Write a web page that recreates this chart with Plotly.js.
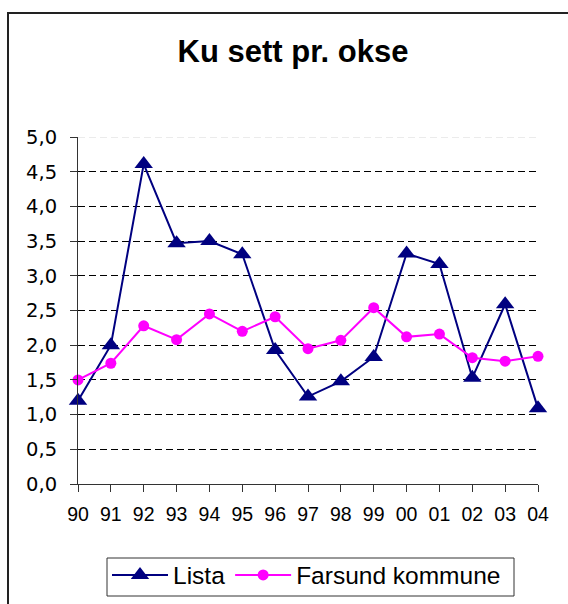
<!DOCTYPE html>
<html>
<head>
<meta charset="utf-8">
<script src="https://cdn.plot.ly/plotly-3.0.1.min.js"></script>
<style>
html,body{margin:0;padding:0;background:#fff;}
#chart{width:568px;height:604px;}
</style>
</head>
<body>
<div id="chart"></div>
<script>
var years = ['90','91','92','93','94','95','96','97','98','99','00','01','02','03','04'];
var lista = [1.20, 2.00, 4.61, 3.47, 3.50, 3.31, 1.93, 1.26, 1.48, 1.83, 3.32, 3.17, 1.53, 2.59, 1.09];
var farsund = [1.50, 1.74, 2.28, 2.08, 2.45, 2.20, 2.41, 1.95, 2.07, 2.54, 2.12, 2.16, 1.82, 1.77, 1.84];
var seriesNames = ['Lista', 'Farsund kommune'];
var chartTitle = 'Ku sett pr. okse';

var traces = [
  {
    x: years, y: lista, name: seriesNames[0], type: 'scatter', mode: 'lines+markers',
    line: {color: '#000080', width: 2},
    marker: {symbol: 'triangle-up', size: 16, color: '#000080'},
    cliponaxis: false
  },
  {
    x: years, y: farsund, name: seriesNames[1], type: 'scatter', mode: 'lines+markers',
    line: {color: '#FF00FF', width: 2},
    marker: {symbol: 'circle', size: 11, color: '#FF00FF'},
    cliponaxis: false
  }
];

var L = 78, T = 137, PW = 460, PH = 347;
function px2x(p) { return (p - L) / PW; }
function px2y(p) { return (T + PH - p) / PH; }

var layout = {
  width: 568, height: 604,
  margin: {l: L, r: 568 - L - PW, t: T, b: 604 - T - PH},
  paper_bgcolor: '#fff', plot_bgcolor: '#fff',
  separators: ', ',
  showlegend: true,
  title: {
    text: chartTitle,
    font: {family: 'Liberation Sans, Arial, sans-serif', size: 31, color: '#000', weight: 'bold'},
    x: 293/568, xref: 'container', xanchor: 'center',
    y: 1 - 51/604, yref: 'container', yanchor: 'middle'
  },
  xaxis: {
    type: 'category', range: [0, 14],
    showline: true, linecolor: '#333', linewidth: 1,
    ticks: 'outside', ticklen: 7, tickcolor: '#333', tickwidth: 1,
    showgrid: false, zeroline: false,
    tickfont: {family: 'Liberation Sans, Arial, sans-serif', size: 19.5, color: '#000'},
    ticklabelstandoff: 6
  },
  yaxis: {
    range: [0, 5], dtick: 0.5, tick0: 0, tickformat: '.1f',
    showline: true, linecolor: '#333', linewidth: 1,
    ticks: 'outside', ticklen: 7, tickcolor: '#333', tickwidth: 1,
    showgrid: true, gridcolor: '#000', gridwidth: 1, griddash: '7px,4px',
    zeroline: false,
    tickfont: {family: 'DejaVu Sans, sans-serif', size: 19.5, color: '#000'},
    ticklabelstandoff: 9
  },
  legend: {
    orientation: 'h',
    xref: 'container', yref: 'container',
    x: 107/568, y: 1 - 552.5/604, xanchor: 'left', yanchor: 'top',
    bgcolor: 'rgba(0,0,0,0)', borderwidth: 0,
    font: {family: 'Liberation Sans, Arial, sans-serif', size: 24.5, color: '#000'},
    itemwidth: 56
  },
  shapes: [
    {type: 'line', xref: 'paper', yref: 'y', x0: 0, x1: 1, y0: 5, y1: 5,
     line: {color: '#fff', width: 2}, layer: 'above'},
    {type: 'line', xref: 'paper', yref: 'y', x0: 0, x1: 1, y0: 5, y1: 5,
     line: {color: '#d8d8d8', width: 1, dash: '7px,4px'}, layer: 'above'},
    {type: 'rect', xref: 'paper', yref: 'paper',
     x0: px2x(8), x1: 1.3, y0: -0.5, y1: px2y(13),
     line: {color: '#222', width: 2}, fillcolor: 'rgba(0,0,0,0)', layer: 'below'},
    {type: 'rect', xref: 'paper', yref: 'paper',
     x0: px2x(107), x1: px2x(514), y0: px2y(596), y1: px2y(558),
     line: {color: '#333', width: 1}, fillcolor: '#fff', layer: 'below'}
  ]
};

Plotly.newPlot('chart', traces, layout, {displayModeBar: false, staticPlot: true});
</script>
</body>
</html>
